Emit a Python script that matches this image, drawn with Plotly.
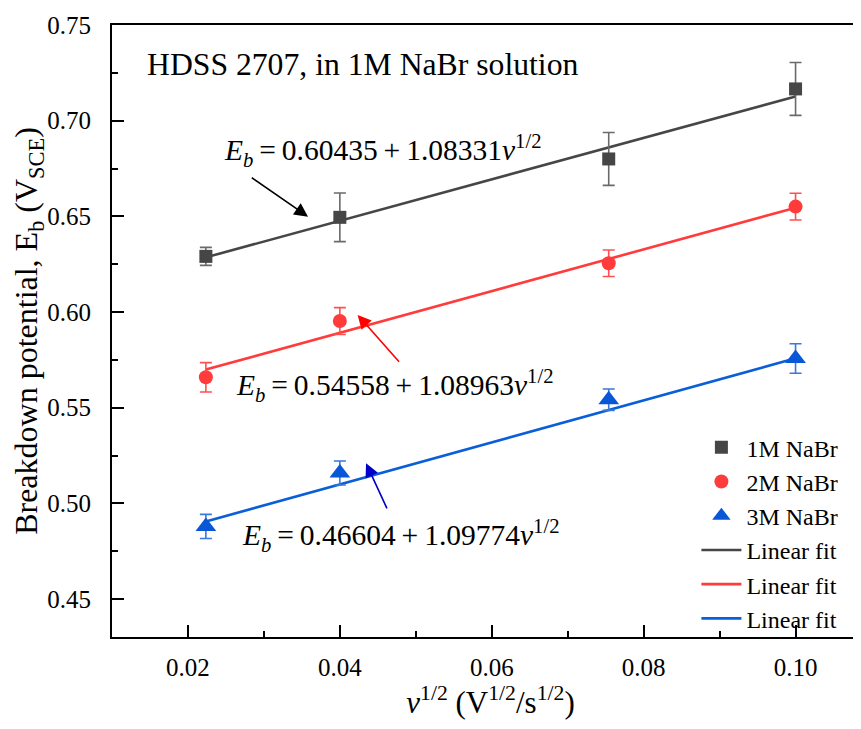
import plotly.graph_objects as go

# ---------------- data ----------------
x_vals = [0.02236, 0.04, 0.0754, 0.1]
series_names = ["1M NaBr", "2M NaBr", "3M NaBr"]
eb_1m = [0.6291, 0.6495, 0.6800, 0.7166]
eb_2m = [0.5659, 0.5953, 0.6255, 0.6551]
eb_3m = [0.4880, 0.5159, 0.5542, 0.5757]
err_1m = [0.0047, 0.0127, 0.0138, 0.0138]
err_2m = [0.0077, 0.0070, 0.0069, 0.0070]
err_3m = [0.0063, 0.0063, 0.0056, 0.0077]
fit_intercepts = [0.60435, 0.54558, 0.46604]
fit_slopes = [1.08331, 1.08963, 1.09774]
TS = "\u2009"  # thin space
eq_texts = [
    f"<i>E<sub>b</sub></i>{TS}={TS}0.60435{TS}+{TS}1.08331<i>ν</i><sup>1/2</sup>",
    f"<i>E<sub>b</sub></i>{TS}={TS}0.54558{TS}+{TS}1.08963<i>ν</i><sup>1/2</sup>",
    f"<i>E<sub>b</sub></i>{TS}={TS}0.46604{TS}+{TS}1.09774<i>ν</i><sup>1/2</sup>",
]
x_ticks = [0.02, 0.04, 0.06, 0.08, 0.10]
y_ticks = [0.45, 0.50, 0.55, 0.60, 0.65, 0.70, 0.75]

# ---------------- style ----------------
FONT = "Liberation Serif"
marker_colors = ["#464646", "#ff3b3b", "#0857d6"]
err_colors = ["#6a6a6a", "#ff5050", "#3a78dc"]
line_colors = ["#464646", "#ff3b3b", "#0a5fd8"]
arrow_colors = ["#000000", "#ff0000", "#0000c8"]
symbols = ["square", "circle", "triangle-up"]
sizes = [13, 14, 18]

fig = go.Figure()

ys = [eb_1m, eb_2m, eb_3m]
errs = [err_1m, err_2m, err_3m]

# fit lines (drawn first, under markers)
for i in range(3):
    xl = [x_vals[0], x_vals[-1]]
    yl = [fit_intercepts[i] + fit_slopes[i] * xv for xv in xl]
    fig.add_trace(go.Scatter(
        x=xl, y=yl, mode="lines", name="Linear fit",
        line=dict(color=line_colors[i], width=2.6),
        legendrank=4 + i, showlegend=True,
    ))

for i in range(3):
    fig.add_trace(go.Scatter(
        x=x_vals, y=ys[i], mode="markers", name=series_names[i],
        marker=dict(symbol=symbols[i], size=sizes[i], color=marker_colors[i],
                    line=dict(width=0)),
        error_y=dict(type="data", array=errs[i], visible=True,
                     color=err_colors[i], thickness=1.6, width=6),
        legendrank=1 + i,
    ))

# ---------------- annotations ----------------
annotations = []
annotations.append(dict(
    x=0.01438, y=0.7296, xref="x", yref="y", xanchor="left", yanchor="middle",
    text="HDSS 2707, in 1M NaBr solution", showarrow=False,
    font=dict(family=FONT, size=31.7, color="black")))

eq_pos = [(0.02448, 0.6845), (0.0260, 0.5617), (0.0268, 0.4834)]
for (ex, ey), t in zip(eq_pos, eq_texts):
    annotations.append(dict(
        x=ex, y=ey, xref="x", yref="y", xanchor="left", yanchor="middle",
        text=t, showarrow=False,
        font=dict(family=FONT, size=29.5, color="black")))

arrows = [
    ((0.03581, 0.64984), (0.02821, 0.67074)),
    ((0.04234, 0.59849), (0.04797, 0.57325)),
    ((0.04345, 0.52100), (0.04629, 0.49661)),
]
for (head, tail), c in zip(arrows, arrow_colors):
    annotations.append(dict(
        x=head[0], y=head[1], ax=tail[0], ay=tail[1],
        xref="x", yref="y", axref="x", ayref="y",
        text="", showarrow=True, arrowhead=2, arrowsize=1.7,
        arrowwidth=1.6, arrowcolor=c))

fig.update_layout(
    width=861, height=729,
    margin=dict(l=104, r=0, t=17, b=100, autoexpand=False),
    paper_bgcolor="white", plot_bgcolor="white",
    font=dict(family=FONT, size=24, color="black"),
    showlegend=True,
    legend=dict(
        x=0.772, y=0.346, xanchor="left", yanchor="top",
        bgcolor="rgba(0,0,0,0)", borderwidth=0,
        font=dict(family=FONT, size=24, color="black"),
        tracegroupgap=0, itemwidth=40,
    ),
    annotations=annotations,
)

fig.update_xaxes(
    range=[0.01, 0.10967], tickvals=x_ticks,
    ticktext=[f"{v:.2f}" for v in x_ticks],
    showgrid=False, zeroline=False, automargin=False,
    showline=True, linewidth=2, linecolor="black", mirror=True,
    ticks="inside", ticklen=12, tickwidth=2, tickcolor="black",
    minor=dict(ticks="inside", ticklen=6, tickwidth=2, tickcolor="black", dtick=0.01, tick0=0.0, showgrid=False),
    tickfont=dict(family=FONT, size=25, color="black"),
    ticklabelstandoff=7,
    title=dict(text="<i>ν</i><sup>1/2</sup> (V<sup>1/2</sup>/s<sup>1/2</sup>)",
               font=dict(family=FONT, size=31, color="black"), standoff=8),
)
fig.update_yaxes(
    range=[0.4302, 0.75], tickvals=y_ticks,
    ticktext=[f"{v:.2f}" for v in y_ticks],
    showgrid=False, zeroline=False, automargin=False,
    showline=True, linewidth=2, linecolor="black", mirror=False,
    ticks="inside", ticklen=12, tickwidth=2, tickcolor="black",
    minor=dict(ticks="inside", ticklen=6, tickwidth=2, tickcolor="black", dtick=0.025, tick0=0.0, showgrid=False),
    tickfont=dict(family=FONT, size=25, color="black"),
    ticklabelstandoff=14,
    title=dict(text="Breakdown potential, E<sub>b</sub> (V<sub>SCE</sub>)",
               font=dict(family=FONT, size=32, color="black"), standoff=4),
)

fig.write_html("out.html")
